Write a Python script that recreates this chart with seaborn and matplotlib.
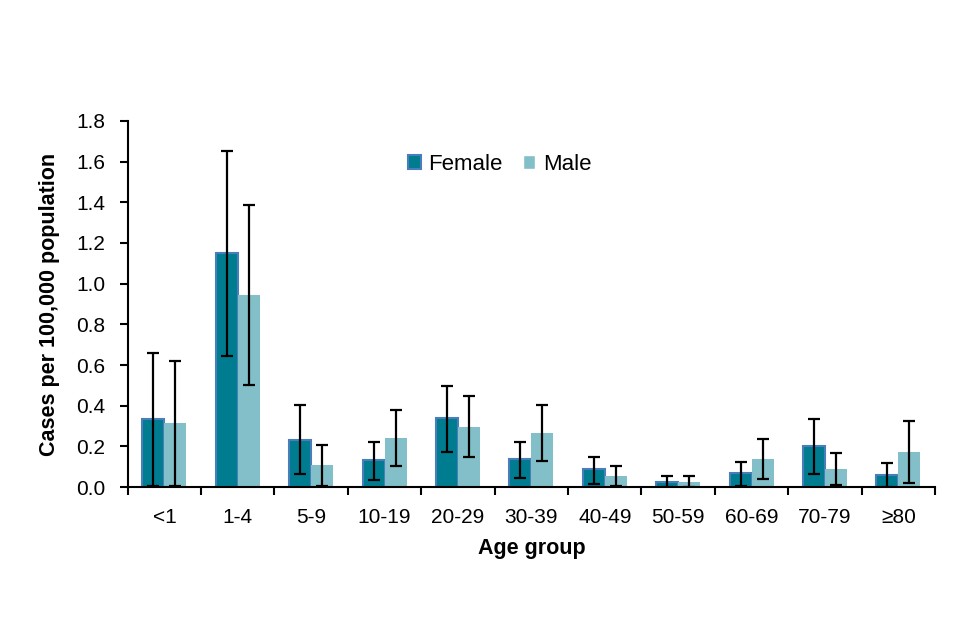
import pandas as pd
import numpy as np
import matplotlib.pyplot as plt
import seaborn as sns

# Values
age_groups = ["<1", "1-4", "5-9", "10-19", "20-29", "30-39", "40-49", "50-59", "60-69", "70-79", "≥80"]
female_rate = [0.334, 1.151, 0.231, 0.133, 0.339, 0.136, 0.087, 0.026, 0.067, 0.203, 0.059]
female_low = [0.005, 0.644, 0.064, 0.034, 0.172, 0.044, 0.016, 0.001, 0.007, 0.066, 0.001]
female_high = [0.659, 1.653, 0.403, 0.221, 0.497, 0.221, 0.149, 0.054, 0.125, 0.334, 0.120]
male_rate = [0.315, 0.944, 0.108, 0.241, 0.295, 0.266, 0.056, 0.025, 0.136, 0.089, 0.172]
male_low = [0.005, 0.502, 0.005, 0.103, 0.148, 0.128, 0.007, 0.001, 0.041, 0.011, 0.020]
male_high = [0.620, 1.387, 0.207, 0.379, 0.448, 0.405, 0.105, 0.054, 0.238, 0.169, 0.326]

df = pd.DataFrame({
    "age": age_groups * 2,
    "sex": ["Female"] * len(age_groups) + ["Male"] * len(age_groups),
    "rate": female_rate + male_rate,
})

sns.set_style("white")
plt.rcParams["font.family"] = ["Liberation Sans", "DejaVu Sans"]
plt.rcParams["text.color"] = "black"
plt.rcParams["axes.labelcolor"] = "black"
plt.rcParams["xtick.color"] = "black"
plt.rcParams["ytick.color"] = "black"

fig, ax = plt.subplots(figsize=(9.6, 6.4), dpi=100)
fig.subplots_adjust(left=0.133, right=0.974, top=0.811, bottom=0.239)

palette = {"Female": "#007C91", "Male": "#82BFC8"}
sns.barplot(data=df, x="age", y="rate", hue="sex", order=age_groups,
            hue_order=["Female", "Male"], palette=palette, width=0.6,
            saturation=1, errorbar=None, ax=ax)

# style the bars and add the confidence intervals
lows = [female_low, male_low]
highs = [female_high, male_high]
rates = [female_rate, male_rate]
bar_conts = list(ax.containers)
for i, cont in enumerate(bar_conts):
    for bar in cont:
        if i == 0:
            bar.set_edgecolor("#4A7EBB")
            bar.set_linewidth(1.5)
        else:
            bar.set_edgecolor("none")
    xs = [b.get_x() + b.get_width() / 2 for b in cont]
    r = np.array(rates[i])
    err = [r - np.array(lows[i]), np.array(highs[i]) - r]
    ax.errorbar(xs, r, yerr=err, fmt="none", ecolor="black",
                elinewidth=1.6, capsize=4.5, capthick=1.6, zorder=5)

ax.set_ylim(0, 1.8)
ax.set_yticks(np.arange(0, 1.81, 0.2))
ax.set_yticklabels([f"{v:.1f}" for v in np.arange(0, 1.81, 0.2)])
ax.set_xlim(-0.5, len(age_groups) - 0.5)
ax.set_xticks(np.arange(-0.5, len(age_groups)), minor=True)
ax.tick_params(axis="x", which="major", bottom=False, length=0, labelsize=15, pad=15)
ax.tick_params(axis="x", which="minor", bottom=True, length=6, width=1.5, direction="out")
ax.tick_params(axis="y", left=True, length=6, width=1.5, direction="out", labelsize=15, pad=10)

for side in ["top", "right"]:
    ax.spines[side].set_visible(False)
for side in ["left", "bottom"]:
    ax.spines[side].set_color("black")
    ax.spines[side].set_linewidth(1.5)

ax.set_xlabel("Age group", fontsize=15.5, fontweight="bold", labelpad=8)
ax.set_ylabel("Cases per 100,000 population", fontsize=15.5, fontweight="bold", labelpad=12)

leg = ax.legend(loc="center", bbox_to_anchor=(0.461, 0.881), ncol=2, frameon=False,
                fontsize=16, handlelength=0.55, handleheight=0.55, handletextpad=0.35,
                columnspacing=0.9)
leg.get_patches()[0].set_edgecolor("#4A7EBB")
leg.get_patches()[0].set_linewidth(1.5)

plt.savefig("out.png", dpi=100)
plt.close()
